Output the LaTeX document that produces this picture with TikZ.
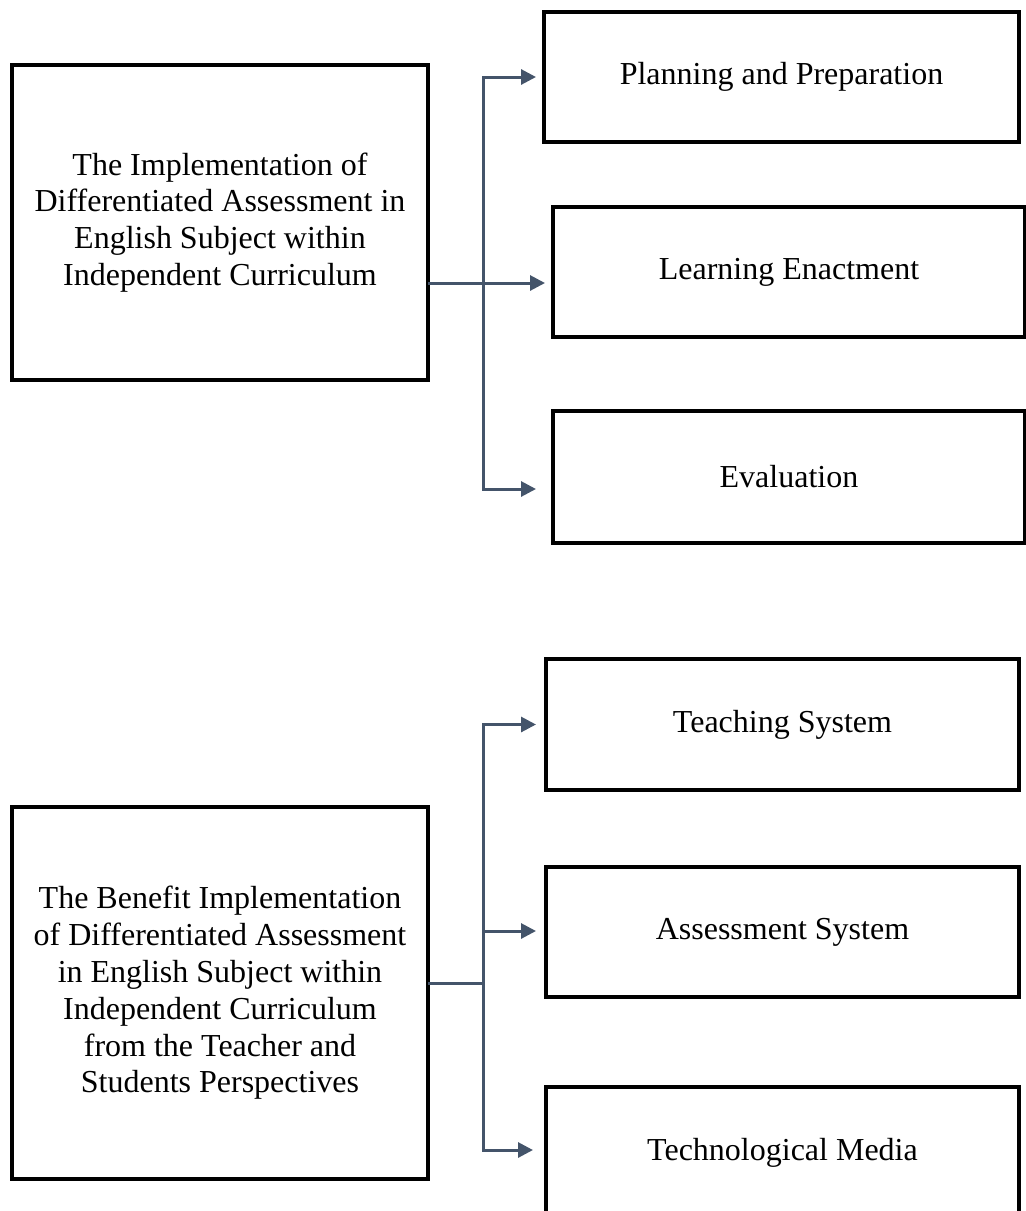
\documentclass[tikz,border=0pt]{standalone}
\usepackage{fontspec}
\setmainfont{Liberation Serif}
\usetikzlibrary{arrows.meta}
\definecolor{conncol}{HTML}{44546A}
\begin{document}
\begin{tikzpicture}[x=1pt,y=-1pt,
  box/.style={draw=black,line width=4pt,rectangle,inner sep=0pt,outer sep=0pt,
    align=center,font=\fontsize{32}{36.8}\selectfont},
  conn/.style={draw=conncol,line width=3pt},
  arr/.style={conn,-{Triangle[length=15pt,width=15pt]}}]
\useasboundingbox (0,0) rectangle (1026,1211);
\begin{scope}
\clip (0,0) rectangle (1026,1211);
% top group
\node[box,minimum width=416pt,minimum height=315pt] (L1) at (220,222.5)
  {The Implementation of\\Differentiated Assessment in\\English Subject within\\Independent Curriculum};
\node[box,minimum width=475pt,minimum height=130pt] (P) at (781.5,77) {Planning and Preparation};
\node[box,minimum width=472pt,minimum height=130pt] (LE) at (789,272) {Learning Enactment};
\node[box,minimum width=472pt,minimum height=132pt] (E) at (789,477) {Evaluation};
% bottom group
\node[box,minimum width=416pt,minimum height=372pt] (L2) at (220,993)
  {The Benefit Implementation\\of Differentiated Assessment\\in English Subject within\\Independent Curriculum\\from the Teacher and\\Students Perspectives};
\node[box,minimum width=473pt,minimum height=131pt] (T) at (782.5,724.5) {Teaching System};
\node[box,minimum width=473pt,minimum height=130pt] (A) at (782.5,932) {Assessment System};
\node[box,minimum width=473pt,minimum height=131pt] (TM) at (782.5,1152.5) {Technological Media};
% connectors top
\coordinate (j1) at (483,283);
\draw[conn] (L1.east |- j1) -- (j1);
\draw[arr] (j1) |- ([xshift=-8pt]P.west);
\draw[arr,shorten >=8pt] (j1) -- (LE.west |- j1);
\draw[arr] (j1) |- ([xshift=-17pt,yshift=-12pt]E.west);
% connectors bottom
\coordinate (j2) at (483,983);
\draw[conn] (L2.east |- j2) -- (j2);
\draw[arr] (j2) |- ([xshift=-10pt]T.west);
\draw[arr] (j2) |- ([xshift=-10pt,yshift=1pt]A.west);
\draw[arr] (j2) |- ([xshift=-13pt,yshift=2.5pt]TM.west);
\end{scope}
\end{tikzpicture}
\end{document}
